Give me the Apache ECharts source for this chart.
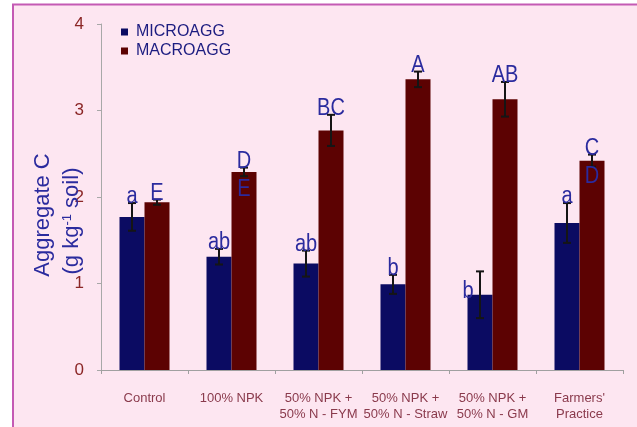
<!DOCTYPE html>
<html>
<head>
<meta charset="utf-8">
<script src="https://cdn.jsdelivr.net/npm/echarts@6/dist/echarts.min.js"></script>
<style>
  html, body { margin: 0; padding: 0; background: #ffffff; }
  #chart { width: 637px; height: 427px; }
</style>
</head>
<body>
<div id="chart"></div>
<script>
// Aggregate-associated carbon under six nutrient treatments
const categories = [
  'Control',
  '100% NPK',
  '50% NPK +\n50% N - FYM',
  '50% NPK +\n50% N - Straw',
  '50% NPK +\n50% N - GM',
  "Farmers'\nPractice"
];
const microagg = [1.77, 1.31, 1.23, 0.99, 0.87, 1.70];
const microErr = [0.16, 0.09, 0.15, 0.11, 0.27, 0.23];
const macroagg = [1.94, 2.29, 2.77, 3.36, 3.13, 2.42];
const macroErr = [0.03, 0.05, 0.18, 0.09, 0.20, 0.07];
// significance letters (lower case: micro, upper case: macro)
const microLetters = ['a', 'ab', 'ab', 'b', 'b', 'a'];
const macroLetters = ['E', 'D', 'BC', 'A', 'AB', 'C'];
const macroLetters2 = ['', 'E', '', '', '', 'D'];
const yTicks = [0, 1, 2, 3, 4];

const BAR_W = 25;
const LETTER_COLOR = '#2b2b9e';
const FONT = '"Liberation Sans", Arial, sans-serif';

const chart = echarts.init(document.getElementById('chart'), null, { renderer: 'canvas' });

function letterEl(text, x, y) {
  return {
    type: 'text', x: x, y: y, scaleY: 1.15,
    style: { text: text, x: 0, y: 0, fill: LETTER_COLOR, font: '20px ' + FONT, align: 'center', verticalAlign: 'middle' }
  };
}

// error bars + letters drawn on the axis scales
function errorSeries(name, values, errs, letters, letters2, dx, anchorOnBar) {
  return {
    type: 'custom',
    name: name + '-err',
    silent: true,
    z: 5,
    encode: { x: 0, y: 1 },
    data: values.map((v, i) => [i, v, errs[i]]),
    renderItem: function (params, api) {
      const i = api.value(0);
      const v = api.value(1);
      const e = api.value(2);
      const top = api.coord([i, v + e]);
      const bot = api.coord([i, v - e]);
      const bar = api.coord([i, v]);
      const x = top[0] + dx;
      const cap = 4;
      const ln = { stroke: '#151515', lineWidth: 2 };
      const children = [
        { type: 'line', shape: { x1: x, y1: top[1], x2: x, y2: bot[1] }, style: ln },
        { type: 'line', shape: { x1: x - cap, y1: top[1], x2: x + cap, y2: top[1] }, style: ln },
        { type: 'line', shape: { x1: x - cap, y1: bot[1], x2: x + cap, y2: bot[1] }, style: ln }
      ];
      let lx = x, ly = top[1] - 6;
      if (anchorOnBar && anchorOnBar[i]) {
        lx = x + anchorOnBar[i][0];
        ly = bar[1] + anchorOnBar[i][1];
      }
      children.push(letterEl(letters[i], lx, ly));
      if (letters2 && letters2[i]) {
        children.push(letterEl(letters2[i], lx, ly + 28));
      }
      return { type: 'group', children: children };
    }
  };
}

// the GM micro letter sits beside its bar top rather than over the whisker
const microLetterShift = { 4: [-12, -3] };

chart.setOption({
  animation: false,
  backgroundColor: '#ffffff',
  graphic: [
    {
      type: 'rect', z: -10, silent: true,
      shape: { x: 13, y: 4.5, width: 700, height: 500 },
      style: { fill: '#fde6f1', stroke: '#c45ab4', lineWidth: 2 }
    },
    {
      type: 'text', z: 10, silent: true,
      x: 43, y: 215, rotation: Math.PI / 2,
      style: { text: 'Aggregate C', fill: LETTER_COLOR, font: '22px ' + FONT, align: 'center', verticalAlign: 'middle' }
    },
    {
      type: 'text', z: 10, silent: true,
      x: 72, y: 221, rotation: Math.PI / 2,
      style: {
        text: '(g kg{sup|-1} soil)', fill: LETTER_COLOR, font: '22px ' + FONT, align: 'center', verticalAlign: 'middle',
        rich: { sup: { fontSize: 13, fontFamily: FONT, fill: LETTER_COLOR, verticalAlign: 'top' } }
      }
    }
  ],
  legend: {
    orient: 'vertical',
    left: 121, top: 24, padding: 0,
    itemWidth: 7, itemHeight: 7, itemGap: 3,
    icon: 'rect',
    data: ['MICROAGG', 'MACROAGG'],
    textStyle: { color: '#1c1c80', fontSize: 16, fontFamily: FONT, padding: [0, 0, 0, 3] }
  },
  grid: { left: 101, right: 14, top: 24, bottom: 57, containLabel: false },
  xAxis: {
    type: 'category',
    data: categories,
    boundaryGap: true,
    axisLine: { lineStyle: { color: '#a0a0a0', width: 1 } },
    axisTick: { show: true, inside: false, length: 4, lineStyle: { color: '#a0a0a0' } },
    axisLabel: { color: '#8a3a4c', fontSize: 13, fontFamily: FONT, lineHeight: 16, margin: 20, interval: 0 },
    splitLine: { show: false }
  },
  yAxis: {
    type: 'value',
    min: yTicks[0], max: yTicks[yTicks.length - 1], interval: 1,
    axisLine: { show: true, lineStyle: { color: '#a8a8a8', width: 1 } },
    axisTick: { show: true, inside: false, length: 4, lineStyle: { color: '#a8a8a8' } },
    axisLabel: { color: '#8b2626', fontSize: 17, fontFamily: FONT, margin: 17 },
    splitLine: { show: false }
  },
  series: [
    {
      name: 'MICROAGG', type: 'bar', data: microagg,
      barWidth: BAR_W, barGap: '0%',
      itemStyle: { color: '#0b0b62' }
    },
    {
      name: 'MACROAGG', type: 'bar', data: macroagg,
      barWidth: BAR_W, barGap: '0%',
      itemStyle: { color: '#5c0202' }
    },
    errorSeries('MICROAGG', microagg, microErr, microLetters, null, -BAR_W / 2, microLetterShift),
    errorSeries('MACROAGG', macroagg, macroErr, macroLetters, macroLetters2, BAR_W / 2, null)
  ]
});
</script>
</body>
</html>
